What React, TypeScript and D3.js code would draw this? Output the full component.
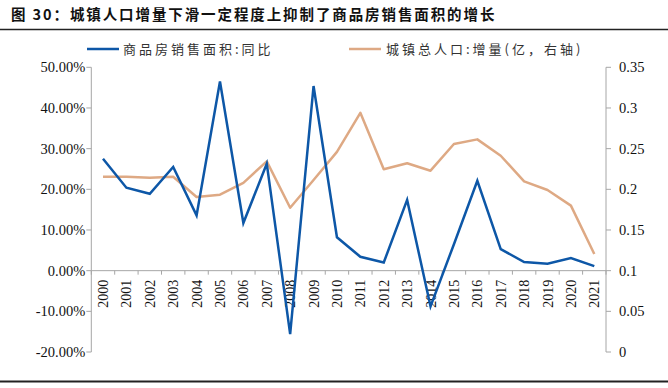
import React from "react";
import * as d3 from "d3";

const years = ["2000","2001","2002","2003","2004","2005","2006","2007","2008","2009","2010","2011","2012","2013","2014","2015","2016","2017","2018","2019","2020","2021"];
const salesAreaYoY = [27.5, 20.4, 18.9, 25.5, 13.6, 46.5, 11.7, 26.3, -15.6, 45.4, 8.2, 3.4, 2.0, 17.4, -8.8, 6.5, 22.1, 5.3, 2.1, 1.7, 3.1, 1.1];
const urbanPopIncrease = [0.2155, 0.2155, 0.2143, 0.2155, 0.1905, 0.1934, 0.208, 0.2344, 0.1774, 0.2114, 0.246, 0.294, 0.2246, 0.232, 0.2229, 0.2557, 0.2614, 0.2413, 0.2098, 0.1991, 0.1799, 0.1205];
const leftTicks = [50, 40, 30, 20, 10, 0, -10, -20];
const rightTicks = [0.35, 0.3, 0.25, 0.2, 0.15, 0.1, 0.05, 0];
const rightTickLabels = ["0.35", "0.3", "0.25", "0.2", "0.15", "0.1", "0.05", "0"];

const W = 668, H = 388;
const L = 91.3, R = 606, T = 67.3, B = 352;
const BLUE = "#0d57a7";
const ORANGE = "#dea984";
const AXIS = "#a6a6a6";
const serif = "'Liberation Serif', 'Times New Roman', serif";
const cjk = "'Noto Sans CJK SC', sans-serif";

export default function App() {
  const x = d3.scaleBand<string>().domain(years).range([L, R]);
  const yL = d3.scaleLinear().domain([-20, 50]).range([B, T]);
  const yR = d3.scaleLinear().domain([0, 0.35]).range([B, T]);
  const cx = (d: string) => (x(d) as number) + x.bandwidth() / 2;
  const lineL = d3.line<number>().x((_, i) => cx(years[i])).y((d) => yL(d));
  const lineR = d3.line<number>().x((_, i) => cx(years[i])).y((d) => yR(d));
  const y0 = yL(0);
  const bounds = years.map((d) => x(d) as number).concat([R]);

  return (
    <svg width={W} height={H} style={{ position: "absolute", left: 0, top: 0, background: "#fff" }}>
      <rect x={0} y={0} width={W} height={H} fill="#fff" />
      <text x={11} y={20} fontFamily={cjk} fontWeight="bold" fontSize={14.5} fill="#111" letterSpacing={1.9}>
        图 30：城镇人口增量下滑一定程度上抑制了商品房销售面积的增长
      </text>
      <line x1={0} x2={W} y1={29.5} y2={29.5} stroke="#222" strokeWidth={1.5} />
      <line x1={0} x2={W} y1={381.5} y2={381.5} stroke="#222" strokeWidth={2} />

      {/* legend */}
      <line x1={87} x2={119} y1={49} y2={49} stroke={BLUE} strokeWidth={2.5} />
      <text x={123} y={54} fontFamily={cjk} fontSize={13} fill="#333" letterSpacing={3}>商品房销售面积:同比</text>
      <line x1={349} x2={381} y1={49} y2={49} stroke={ORANGE} strokeWidth={2.5} />
      <text x={386} y={54} fontFamily={cjk} fontSize={13} fill="#333" letterSpacing={3}>城镇总人口:增量(亿，右轴)</text>

      {/* left axis */}
      <line x1={L} x2={L} y1={T} y2={B} stroke={AXIS} strokeWidth={1} />
      {leftTicks.map((t) => (
        <g key={"l" + t}>
          <line x1={L - 5} x2={L} y1={yL(t)} y2={yL(t)} stroke={AXIS} />
          <text x={L - 6} y={yL(t) + 5} textAnchor="end" fontFamily={serif} fontSize={14.5} fill="#111">
            {t.toFixed(2) + "%"}
          </text>
        </g>
      ))}
      {/* right axis */}
      <line x1={R} x2={R} y1={T} y2={B} stroke={AXIS} strokeWidth={1} />
      {rightTicks.map((t, i) => (
        <g key={"r" + t}>
          <line x1={R} x2={R + 5} y1={yR(t)} y2={yR(t)} stroke={AXIS} />
          <text x={R + 13} y={yR(t) + 5} textAnchor="start" fontFamily={serif} fontSize={14.5} fill="#111">
            {rightTickLabels[i]}
          </text>
        </g>
      ))}
      {/* x axis at 0 */}
      <line x1={L} x2={R} y1={y0} y2={y0} stroke={AXIS} strokeWidth={1} />
      {bounds.map((b, i) => (
        <line key={"xt" + i} x1={b} x2={b} y1={y0} y2={y0 + 4} stroke={AXIS} />
      ))}
      {years.map((d) => (
        <text
          key={"xl" + d}
          transform={`translate(${cx(d) + 5},${y0 + 9}) rotate(-90)`}
          textAnchor="end"
          fontFamily={serif}
          fontSize={14}
          fill="#111"
        >
          {d}
        </text>
      ))}

      <path d={lineR(urbanPopIncrease) || ""} fill="none" stroke={ORANGE} strokeWidth={2.5} strokeLinejoin="round" />
      <path d={lineL(salesAreaYoY) || ""} fill="none" stroke={BLUE} strokeWidth={2.5} strokeLinejoin="miter" />
    </svg>
  );
}
